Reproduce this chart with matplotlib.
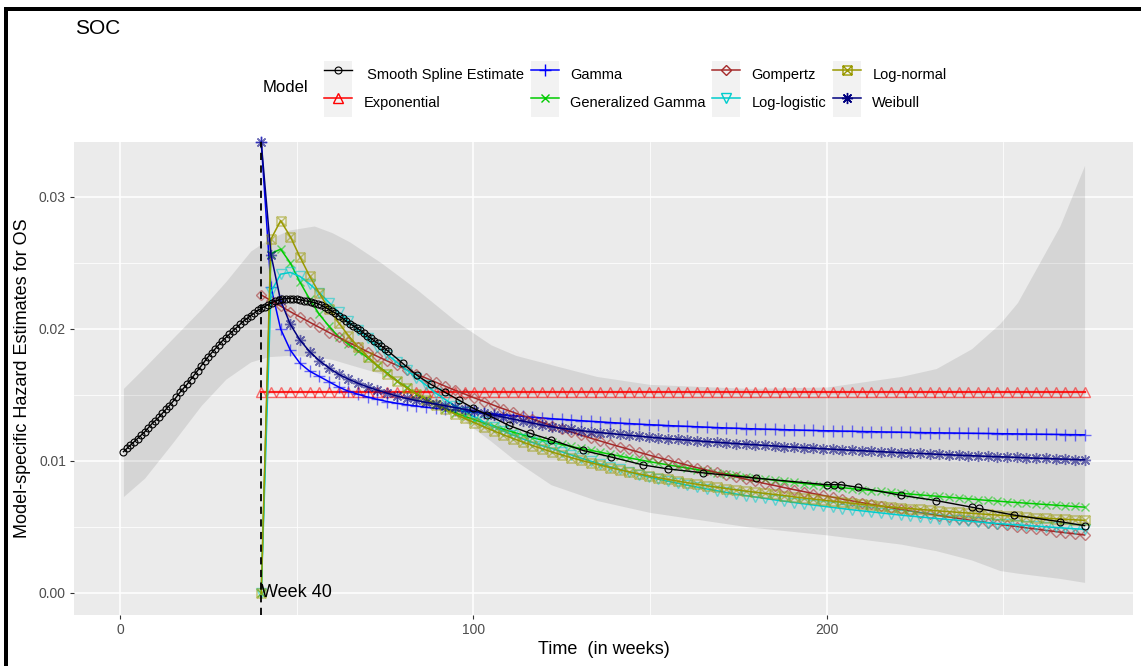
import numpy as np
import matplotlib
matplotlib.use("Agg")
import matplotlib.pyplot as plt
from matplotlib.path import Path
from matplotlib.patches import Rectangle
from matplotlib.legend_handler import HandlerLine2D
from matplotlib.lines import Line2D

plt.rcParams['font.family'] = ['Liberation Sans', 'DejaVu Sans']

# ---------------- data ----------------
inf = np.inf
MODEL_START, MODEL_END = 40, 273

spline_weeks = [1, 2, 3, 4, 5, 6, 7, 8, 9, 10, 11, 12, 13, 14, 15, 16, 17, 18, 19, 20,
                21, 22, 23, 24, 25, 26, 27, 28, 29, 30, 31, 32, 33, 34, 35, 36, 37, 38, 39, 40,
                41, 42, 43, 44, 45, 46, 47, 48, 49, 50, 51, 52, 53, 54, 55, 56, 57, 58, 59, 60,
                61, 62, 63, 64, 65, 66, 67, 68, 69, 70, 71, 72, 73, 74, 75, 76,
                80, 84, 88, 92, 96, 100, 104, 110, 116, 122, 131, 139, 148, 155, 165, 180, 200,
                202, 204, 209, 221, 231, 241, 243, 253, 266, 273]
spline_haz = [0.01070, 0.01095, 0.01120, 0.01145, 0.01170, 0.01195, 0.01220, 0.01250, 0.01280, 0.01305,
              0.01330, 0.01360, 0.01390, 0.01420, 0.01450, 0.01485, 0.01520, 0.01550, 0.01580, 0.01615,
              0.01650, 0.01685, 0.01720, 0.01755, 0.01790, 0.01820, 0.01850, 0.01880, 0.01910, 0.01935,
              0.01960, 0.01985, 0.02010, 0.02035, 0.02060, 0.02080, 0.02100, 0.02120, 0.02140, 0.02155,
              0.02170, 0.02185, 0.02200, 0.02210, 0.02220, 0.02225, 0.02230, 0.02230, 0.02230, 0.02225,
              0.02220, 0.02215, 0.02210, 0.02205, 0.02200, 0.02190, 0.02180, 0.02165, 0.02150, 0.02135,
              0.02120, 0.02100, 0.02080, 0.02060, 0.02040, 0.02025, 0.02010, 0.01990, 0.01970, 0.01950,
              0.01930, 0.01910, 0.01890, 0.01870, 0.01850, 0.01830,
              0.01740, 0.01650, 0.01580, 0.01520, 0.01460, 0.01400, 0.01350, 0.01270, 0.01210, 0.01160,
              0.01080, 0.01030, 0.00970, 0.00940, 0.00910, 0.00870, 0.00820, 0.00820, 0.00820, 0.00800,
              0.00740, 0.00700, 0.00650, 0.00640, 0.00590, 0.00540, 0.00510]

band_weeks = [1, 7, 15, 23, 30, 37, 42, 48, 55, 60, 65, 74, 84, 95, 105, 112, 122, 135, 150,
              178, 200, 221, 231, 241, 249, 254, 266, 273]
band_upper = [0.0155, 0.0171, 0.0193, 0.0215, 0.0236, 0.0259, 0.0268, 0.0275, 0.0278, 0.0273,
              0.0266, 0.0250, 0.0230, 0.0206, 0.0188, 0.0180, 0.0173, 0.0164, 0.0158, 0.0155,
              0.0156, 0.0164, 0.0170, 0.0185, 0.0204, 0.0220, 0.0278, 0.0324]
band_lower = [0.0073, 0.0087, 0.0114, 0.0142, 0.0162, 0.0175, 0.0179, 0.0180, 0.0179, 0.0177,
              0.0173, 0.0166, 0.0152, 0.0135, 0.0115, 0.0100, 0.0082, 0.0070, 0.0061, 0.0050,
              0.0044, 0.0037, 0.0032, 0.0025, 0.0017, 0.0015, 0.0011, 0.0008]

exponential = [0.01523, 0.01523, 0.01523, 0.01523, 0.01523, 0.01523, 0.01523, 0.01523, 0.01523, 0.01523,
               0.01523, 0.01523, 0.01523, 0.01523, 0.01523, 0.01523, 0.01523, 0.01523, 0.01523, 0.01523,
               0.01523, 0.01523, 0.01523, 0.01523, 0.01523, 0.01523, 0.01523, 0.01523, 0.01523, 0.01523,
               0.01523, 0.01523, 0.01523, 0.01523, 0.01523, 0.01523, 0.01523, 0.01523, 0.01523, 0.01523,
               0.01523, 0.01523, 0.01523, 0.01523, 0.01523, 0.01523, 0.01523, 0.01523, 0.01523, 0.01523,
               0.01523, 0.01523, 0.01523, 0.01523, 0.01523, 0.01523, 0.01523, 0.01523, 0.01523, 0.01523,
               0.01523, 0.01523, 0.01523, 0.01523, 0.01523, 0.01523, 0.01523, 0.01523, 0.01523, 0.01523,
               0.01523, 0.01523, 0.01523, 0.01523, 0.01523, 0.01523, 0.01523, 0.01523, 0.01523, 0.01523,
               0.01523, 0.01523, 0.01523, 0.01523, 0.01523, 0.01523]

gamma = [inf, 0.02320, 0.02000, 0.01840, 0.01740, 0.01680, 0.01640, 0.01600, 0.01560, 0.01528,
         0.01505, 0.01484, 0.01466, 0.01450, 0.01437, 0.01426, 0.01416, 0.01407, 0.01399, 0.01391,
         0.01384, 0.01377, 0.01370, 0.01363, 0.01356, 0.01350, 0.01344, 0.01338, 0.01332, 0.01326,
         0.01320, 0.01315, 0.01310, 0.01305, 0.01300, 0.01296, 0.01291, 0.01287, 0.01283, 0.01279,
         0.01275, 0.01272, 0.01268, 0.01265, 0.01262, 0.01259, 0.01256, 0.01253, 0.01250, 0.01248,
         0.01245, 0.01243, 0.01241, 0.01239, 0.01237, 0.01235, 0.01233, 0.01231, 0.01229, 0.01228,
         0.01226, 0.01225, 0.01223, 0.01222, 0.01220, 0.01219, 0.01218, 0.01216, 0.01215, 0.01214,
         0.01213, 0.01212, 0.01211, 0.01210, 0.01209, 0.01208, 0.01207, 0.01206, 0.01205, 0.01204,
         0.01203, 0.01202, 0.01201, 0.01200, 0.01199, 0.01198]

gen_gamma = [0, 0.02570, 0.02605, 0.02500, 0.02355, 0.02225, 0.02110, 0.02020, 0.01940, 0.01885,
             0.01835, 0.01782, 0.01723, 0.01665, 0.01608, 0.01557, 0.01510, 0.01467, 0.01428, 0.01395,
             0.01365, 0.01338, 0.01313, 0.01287, 0.01263, 0.01240, 0.01218, 0.01197, 0.01177, 0.01158,
             0.01141, 0.01125, 0.01110, 0.01095, 0.01081, 0.01066, 0.01051, 0.01037, 0.01023, 0.01009,
             0.00996, 0.00983, 0.00970, 0.00958, 0.00946, 0.00934, 0.00923, 0.00912, 0.00902, 0.00892,
             0.00882, 0.00872, 0.00863, 0.00854, 0.00845, 0.00837, 0.00829, 0.00821, 0.00813, 0.00805,
             0.00798, 0.00790, 0.00783, 0.00776, 0.00769, 0.00762, 0.00756, 0.00749, 0.00743, 0.00737,
             0.00731, 0.00725, 0.00719, 0.00713, 0.00707, 0.00701, 0.00696, 0.00690, 0.00685, 0.00680,
             0.00675, 0.00670, 0.00665, 0.00660, 0.00655, 0.00650]

gompertz = [0.02258, 0.02215, 0.02173, 0.02131, 0.02091, 0.02051, 0.02012, 0.01973, 0.01936, 0.01899,
            0.01863, 0.01827, 0.01792, 0.01758, 0.01725, 0.01692, 0.01659, 0.01628, 0.01597, 0.01566,
            0.01536, 0.01507, 0.01478, 0.01450, 0.01422, 0.01395, 0.01369, 0.01343, 0.01317, 0.01292,
            0.01267, 0.01243, 0.01219, 0.01196, 0.01173, 0.01151, 0.01129, 0.01108, 0.01087, 0.01066,
            0.01045, 0.01025, 0.01006, 0.00987, 0.00968, 0.00949, 0.00931, 0.00913, 0.00896, 0.00879,
            0.00862, 0.00846, 0.00829, 0.00814, 0.00798, 0.00783, 0.00768, 0.00753, 0.00739, 0.00725,
            0.00711, 0.00697, 0.00684, 0.00671, 0.00658, 0.00646, 0.00633, 0.00621, 0.00609, 0.00598,
            0.00586, 0.00575, 0.00564, 0.00553, 0.00543, 0.00533, 0.00522, 0.00512, 0.00503, 0.00493,
            0.00484, 0.00474, 0.00465, 0.00456, 0.00448, 0.00439]

log_logistic = [0, 0.02280, 0.02415, 0.02428, 0.02398, 0.02340, 0.02275, 0.02200, 0.02128, 0.02058,
                0.01992, 0.01928, 0.01866, 0.01806, 0.01748, 0.01690, 0.01632, 0.01575, 0.01515, 0.01465,
                0.01418, 0.01374, 0.01333, 0.01295, 0.01260, 0.01227, 0.01196, 0.01167, 0.01140, 0.01115,
                0.01095, 0.01070, 0.01046, 0.01022, 0.00999, 0.00977, 0.00956, 0.00936, 0.00916, 0.00897,
                0.00879, 0.00862, 0.00846, 0.00831, 0.00816, 0.00802, 0.00788, 0.00775, 0.00762, 0.00750,
                0.00738, 0.00727, 0.00716, 0.00705, 0.00695, 0.00685, 0.00675, 0.00666, 0.00657, 0.00648,
                0.00639, 0.00630, 0.00622, 0.00614, 0.00606, 0.00598, 0.00590, 0.00583, 0.00576, 0.00569,
                0.00562, 0.00556, 0.00550, 0.00544, 0.00538, 0.00532, 0.00526, 0.00521, 0.00516, 0.00511,
                0.00506, 0.00501, 0.00496, 0.00491, 0.00486, 0.00482]

log_normal = [0, 0.02680, 0.02820, 0.02700, 0.02545, 0.02400, 0.02270, 0.02150, 0.02045, 0.01950,
              0.01865, 0.01790, 0.01722, 0.01660, 0.01605, 0.01555, 0.01508, 0.01465, 0.01425, 0.01390,
              0.01355, 0.01322, 0.01290, 0.01258, 0.01228, 0.01198, 0.01170, 0.01143, 0.01117, 0.01092,
              0.01068, 0.01046, 0.01025, 0.01005, 0.00986, 0.00968, 0.00950, 0.00933, 0.00917, 0.00902,
              0.00887, 0.00873, 0.00860, 0.00847, 0.00835, 0.00823, 0.00812, 0.00801, 0.00791, 0.00781,
              0.00772, 0.00763, 0.00754, 0.00746, 0.00738, 0.00728, 0.00719, 0.00711, 0.00703, 0.00695,
              0.00687, 0.00679, 0.00672, 0.00665, 0.00658, 0.00651, 0.00645, 0.00639, 0.00633, 0.00627,
              0.00621, 0.00616, 0.00610, 0.00605, 0.00600, 0.00595, 0.00590, 0.00585, 0.00580, 0.00575,
              0.00571, 0.00566, 0.00562, 0.00558, 0.00554, 0.00550]

weibull = [inf, 0.02564, 0.02216, 0.02035, 0.01916, 0.01828, 0.01760, 0.01704, 0.01656, 0.01620,
           0.01588, 0.01560, 0.01536, 0.01513, 0.01492, 0.01474, 0.01458, 0.01444, 0.01431, 0.01418,
           0.01405, 0.01391, 0.01377, 0.01362, 0.01347, 0.01332, 0.01317, 0.01302, 0.01287, 0.01272,
           0.01258, 0.01248, 0.01239, 0.01230, 0.01222, 0.01215, 0.01208, 0.01201, 0.01194, 0.01188,
           0.01181, 0.01175, 0.01169, 0.01164, 0.01158, 0.01153, 0.01147, 0.01142, 0.01137, 0.01132,
           0.01127, 0.01123, 0.01118, 0.01114, 0.01109, 0.01105, 0.01101, 0.01097, 0.01093, 0.01089,
           0.01085, 0.01081, 0.01078, 0.01074, 0.01070, 0.01067, 0.01063, 0.01060, 0.01057, 0.01054,
           0.01050, 0.01047, 0.01044, 0.01041, 0.01038, 0.01035, 0.01032, 0.01030, 0.01027, 0.01024,
           0.01021, 0.01019, 0.01016, 0.01014, 0.01011, 0.01009]

x_ticks = [0, 100, 200]
y_ticks = [0.00, 0.01, 0.02, 0.03]
y_tick_labels = ["0.00", "0.01", "0.02", "0.03"]

# ---------------- styling ----------------
sq_x = Path([(-1, -1), (1, -1), (1, 1), (-1, 1), (-1, -1), (-1, -1), (1, 1), (-1, 1), (1, -1)],
            [Path.MOVETO, Path.LINETO, Path.LINETO, Path.LINETO, Path.CLOSEPOLY,
             Path.MOVETO, Path.LINETO, Path.MOVETO, Path.LINETO])

models = [
    ("Exponential", exponential, "#FF0000", "^", 7),
    ("Gamma", gamma, "#0000FF", "+", 9),
    ("Generalized Gamma", gen_gamma, "#00CC00", "x", 6),
    ("Gompertz", gompertz, "#A52A2A", "D", 5.5),
    ("Log-logistic", log_logistic, "#00CDCD", "v", 7),
    ("Log-normal", log_normal, "#999900", sq_x, 6.5),
    ("Weibull", weibull, "#000080", (8, 2, 0), 8),
]

W, H = 1141, 666
fig = plt.figure(figsize=(W / 100, H / 100), dpi=100)
fig.patch.set_facecolor("white")

ax_l, ax_r, ax_t, ax_b = 74.3, 1133, 142.3, 615
ax = fig.add_axes([ax_l / W, 1 - ax_b / H, (ax_r - ax_l) / W, (ax_b - ax_t) / H])
ax.set_facecolor("#EBEBEB")
for s in ax.spines.values():
    s.set_visible(False)

YLO, YHI = -0.00167, 0.03414
ax.set_xlim(-12.9, 286.7)
ax.set_ylim(YLO, YHI)
ax.set_xticks(x_ticks)
ax.set_xticks([50, 150, 250], minor=True)
ax.set_yticks(y_ticks)
ax.set_yticklabels(y_tick_labels)
ax.set_yticks([0.005, 0.015, 0.025], minor=True)
ax.grid(which="major", color="white", linewidth=1.1)
ax.grid(which="minor", color="white", linewidth=0.55)
ax.set_axisbelow(True)
ax.tick_params(which="major", length=3, width=0.8, color="#333333", labelcolor="#4D4D4D",
               labelsize=10, pad=3)
ax.tick_params(which="minor", length=0)

# confidence band
ax.fill_between(band_weeks, band_lower, band_upper, color="black", alpha=0.09, linewidth=0, zorder=1)

handles = {}
for name, vals, col, mk, ms in models:
    v = np.array(vals, dtype=float)
    v = np.where(np.isinf(v), YHI, v)
    xs = np.linspace(MODEL_START, MODEL_END, len(v))
    lw = 1.6 if name == "Exponential" else 1.1
    ax.plot(xs, v, color=col, lw=lw, zorder=3, clip_on=False, alpha=0.85 if name == "Exponential" else 1)
    ax.plot(xs, v, linestyle="none", marker=mk, ms=ms, mfc="none", mec=col, mew=1.0,
            alpha=0.55, zorder=3, clip_on=False)
    handles[name] = Line2D([], [], color=col, lw=1.1, marker=mk, ms=ms, mfc="none", mec=col, mew=1.0)

ax.plot(spline_weeks, spline_haz, color="black", lw=1.0, marker="o", ms=5, mfc="none",
        mec="black", mew=0.8, zorder=4)
handles[" Smooth Spline Estimate"] = Line2D([], [], color="black", lw=1.0, marker="o", ms=5,
                                            mfc="none", mec="black", mew=0.8)

ax.axvline(MODEL_START, color="black", linestyle=(0, (4, 3)), lw=1.3, zorder=5)
ax.text(MODEL_START, 0, "Week 40", ha="left", va="center", fontsize=13, color="black", zorder=6)

ax.set_xlabel("Time  (in weeks)", fontsize=13, color="black", labelpad=3)
ax.set_ylabel("Model-specific Hazard Estimates for OS", fontsize=13, color="black", labelpad=6)

fig.text(75 / W, 1 - 29 / H, "SOC", fontsize=15, ha="left", va="center")


class KeyBG(HandlerLine2D):
    def create_artists(self, legend, orig_handle, xdescent, ydescent, width, height, fontsize, trans):
        arts = super().create_artists(legend, orig_handle, xdescent, ydescent, width, height,
                                      fontsize, trans)
        r = Rectangle((-xdescent, -ydescent), width, height, facecolor="#F2F2F2",
                      edgecolor="none", transform=trans)
        return [r] + list(arts)


order = [" Smooth Spline Estimate", "Exponential", "Gamma", "Generalized Gamma", "Gompertz",
         "Log-logistic", "Log-normal", "Weibull"]
fs = 10.5
leg = fig.legend([handles[k] for k in order], order, loc="upper left",
                 bbox_to_anchor=(324 / W, 1 - 61 / H), ncol=4, frameon=False, fontsize=fs,
                 handlelength=1.9, handleheight=2.58, handletextpad=0.8, columnspacing=0.45,
                 labelspacing=0.0, borderpad=0, borderaxespad=0, numpoints=1,
                 handler_map={Line2D: KeyBG()})
fig.text(263 / W, 1 - 88 / H, "Model", fontsize=12, ha="left", va="center")

# black frame edges (top and left) seen in the reference image
fig.add_artist(Rectangle((4 / W, 1 - 11 / H), 1 - 4 / W, 4 / H, transform=fig.transFigure,
                         facecolor="black", edgecolor="none"))
fig.add_artist(Rectangle((4 / W, 0), 4 / W, 1 - 7 / H, transform=fig.transFigure,
                         facecolor="black", edgecolor="none"))

fig.savefig("out.png", dpi=100)
